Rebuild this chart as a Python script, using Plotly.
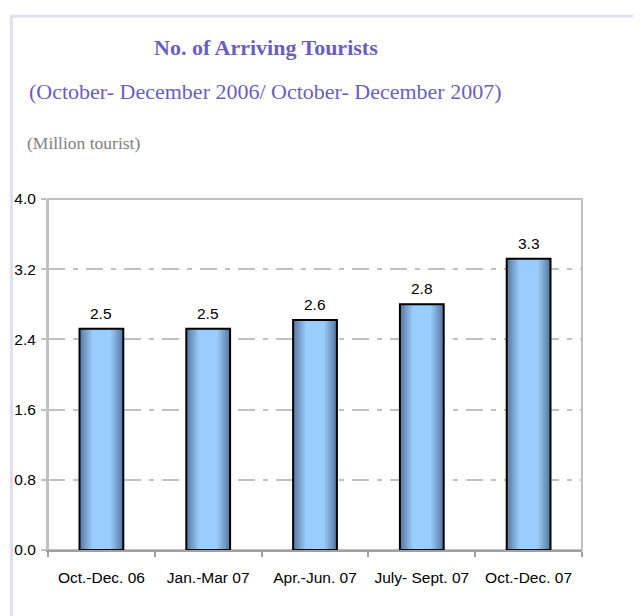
import plotly.graph_objects as go

categories = ["Oct.-Dec. 06", "Jan.-Mar 07", "Apr.-Jun. 07", "July- Sept. 07", "Oct.-Dec. 07"]
values = [2.52, 2.52, 2.62, 2.80, 3.32]
y_ticks = [0.0, 0.8, 1.6, 2.4, 3.2, 4.0]

BAR_W = 0.41
# gradient layers: (width fraction, color)
layers = [
    (1.00, "#587ca4"),
    (0.92, "#6287b1"),
    (0.84, "#6c93be"),
    (0.76, "#769fca"),
    (0.68, "#80aad6"),
    (0.60, "#8ab6e2"),
    (0.52, "#92c0ee"),
    (0.44, "#99ccff"),
]

fig = go.Figure()
for frac, col in layers:
    fig.add_trace(go.Bar(
        x=categories, y=values, width=BAR_W * frac,
        marker=dict(color=col, line=dict(width=0)),
        hoverinfo="skip", showlegend=False,
    ))
# outline
fig.add_trace(go.Bar(
    x=categories, y=values, width=BAR_W,
    marker=dict(color="rgba(0,0,0,0)", line=dict(color="#000000", width=2)),
    showlegend=False,
))

font_serif = "Liberation Serif, Times New Roman, serif"
label_font = dict(family="Liberation Sans, Arial", size=15.5, color="#000000")

annotations = [
    dict(x=c, y=v, xref="x", yref="y", text=f"{v:.1f}", showarrow=False,
         yanchor="bottom", xanchor="center", yshift=5, font=label_font)
    for c, v in zip(categories, values)
]
annotations += [
    dict(text="<b>No. of Arriving Tourists</b>", xref="paper", yref="paper",
         x=0.408, y=1.433, xanchor="center", yanchor="middle", showarrow=False,
         font=dict(family=font_serif, size=22, color="#6a5fbd")),
    dict(text="(October- December 2006/ October- December 2007)", xref="paper", yref="paper",
         x=0.408, y=1.305, xanchor="center", yanchor="middle", showarrow=False,
         font=dict(family=font_serif, size=22, color="#6a5fbd")),
    dict(text="(Million tourist)", xref="paper", yref="paper",
         x=-0.0430, y=1.1595, xanchor="left", yanchor="middle", showarrow=False,
         font=dict(family=font_serif, size=17.5, color="#808080")),
]

fig.update_layout(
    width=633, height=608,
    margin=dict(l=40, r=59, t=191, b=66),
    paper_bgcolor="white", plot_bgcolor="white",
    barmode="overlay",
    showlegend=False,
    font=dict(family="Liberation Sans, Arial", size=15.5, color="#000000"),
    xaxis=dict(
        showgrid=False, showline=True, linecolor="#a0a0a0", linewidth=2,
        ticks="outside", tickson="boundaries", ticklen=5, tickcolor="#a0a0a0", tickwidth=2,
        ticklabelstandoff=12, automargin=False,
        tickfont=dict(family="Liberation Sans, Arial", size=15.5, color="#000000"),
    ),
    yaxis=dict(
        range=[0, 4.0], tickvals=y_ticks, ticktext=[f"{t:.1f}" for t in y_ticks],
        showgrid=True, gridcolor="#c0c0c0", gridwidth=2, griddash="17px,8px,5px,8px",
        showline=True, linecolor="#c0c0c0", linewidth=2,
        ticks="outside", ticklen=5, tickcolor="#c0c0c0", tickwidth=2,
        ticklabelstandoff=2, zeroline=False, automargin=False,
        tickfont=dict(family="Liberation Sans, Arial", size=15.5, color="#000000"),
    ),
    shapes=[
        dict(type="rect", xref="paper", yref="paper", x0=0, x1=1, y0=0, y1=1,
             line=dict(color="#c0c0c0", width=2), layer="below"),
        dict(type="path", xref="paper", yref="paper",
             path="M -0.0684 -0.3 L -0.0684 1.521 L 1.3 1.521",
             line=dict(color="#dedef4", width=3)),
    ],
    annotations=annotations,
)

fig.write_html("out.html")
